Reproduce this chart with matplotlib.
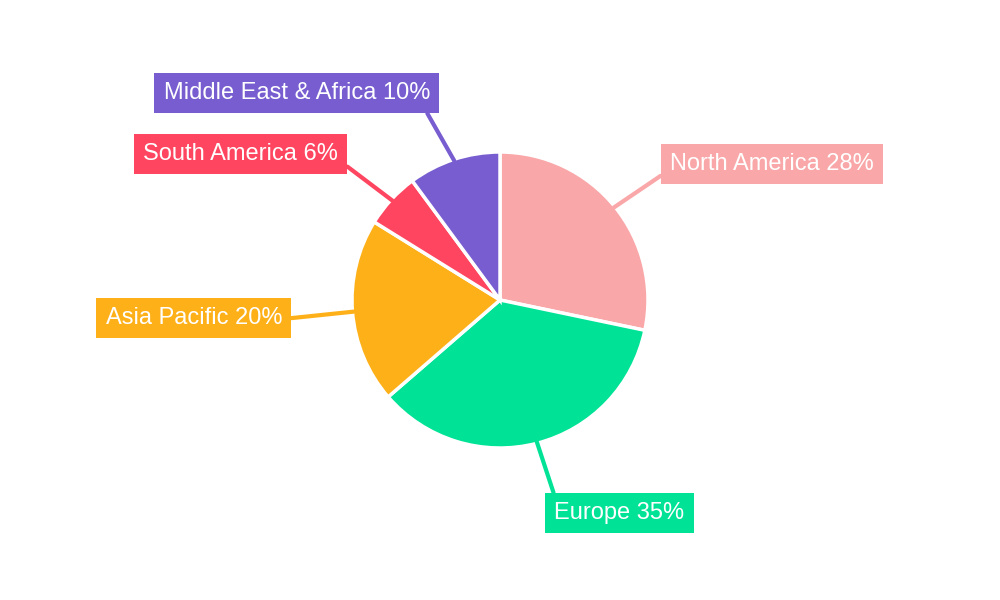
import matplotlib
matplotlib.use("Agg")
import matplotlib.pyplot as plt
import numpy as np

labels = ["North America", "Europe", "Asia Pacific", "South America", "Middle East & Africa"]
values = [28, 35, 20, 6, 10]
colors = ["#F9A7A8", "#00E396", "#FEB019", "#FF4560", "#775DD0"]
# label text anchor (figure pixels), alignment, connector attach point on box
text_pos = [(670, 436, "left", (0, 0.25)), (554, 87, "left", (0.02, 1)),
            (282, 282, "right", (1, 0.45)), (338, 446, "right", (1, 0.25)),
            (430, 507, "right", (0.97, 0))]

plt.rcParams['font.family'] = ['Liberation Sans', 'DejaVu Sans']
fig = plt.figure(figsize=(10, 6), dpi=100)
ax = fig.add_axes([0.352, 0.5 - 148/600, 0.296, 296/600])
wedges, _ = ax.pie(values, colors=colors, startangle=90, counterclock=False,
                   wedgeprops=dict(edgecolor="white", linewidth=2.5))
ax.set_xlim(-1, 1); ax.set_ylim(-1, 1); ax.set_aspect('equal'); ax.axis('off')

for w, lab, v, c, (tx, ty, ha, rp) in zip(wedges, labels, values, colors, text_pos):
    ang = np.deg2rad((w.theta1 + w.theta2) / 2)
    xy = (np.cos(ang) * 0.99, np.sin(ang) * 0.99)
    ax.annotate(f"{lab} {round(v)}%", xy=xy, xytext=(tx, ty), textcoords='figure pixels',
                ha=ha, va='center', color='white', fontsize=17,
                bbox=dict(boxstyle='square,pad=0.4', fc=c, ec='none'),
                arrowprops=dict(arrowstyle='-', color=c, lw=3, shrinkA=0, shrinkB=0, relpos=rp))
fig.savefig("out.png", dpi=100)
